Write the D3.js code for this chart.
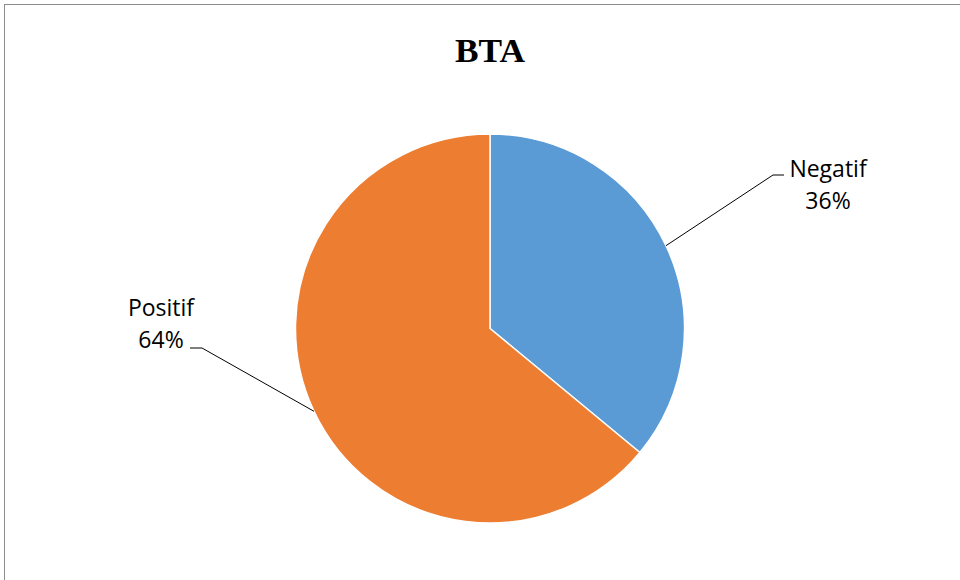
<!DOCTYPE html>
<html>
<head>
<meta charset="utf-8">
<script src="https://cdn.jsdelivr.net/npm/d3@7"></script>
<style>
  body { margin: 0; background: #fff; }
  svg { display: block; }
  .slice-label { font-family: "Open Sans", "Noto Sans", sans-serif; font-size: 23px; fill: #000; }
</style>
</head>
<body>
<div id="chart"></div>
<script>
const categories = ['Negatif', 'Positif'];
const values = [36, 64];
const colors = ['#5b9bd5', '#ed7d31'];
const title = 'BTA';

const width = 960;
const height = 580;
const cx = 490;
const cy = 328.5;
const radius = 194.5;

const svg = d3.select('#chart')
  .append('svg')
  .attr('width', width)
  .attr('height', height);

// chart frame (right/bottom edges fall outside the window)
svg.append('rect')
  .attr('x', 4.5)
  .attr('y', 4.5)
  .attr('width', width + 10)
  .attr('height', height + 10)
  .attr('fill', 'white')
  .attr('stroke', '#8c8c8c')
  .attr('stroke-width', 1);

svg.append('text')
  .text(title)
  .attr('x', 490)
  .attr('y', 62)
  .attr('text-anchor', 'middle')
  .attr('font-family', '"Liberation Serif", "DejaVu Serif", serif')
  .attr('font-weight', 'bold')
  .attr('font-size', '34px')
  .attr('textLength', 70)
  .attr('lengthAdjust', 'spacingAndGlyphs')
  .attr('fill', 'black');

const data = categories.map((c, i) => ({ name: c, value: values[i], color: colors[i] }));
const total = d3.sum(values);

const pie = d3.pie()
  .value(d => d.value)
  .sort(null);

const arc = d3.arc()
  .innerRadius(0)
  .outerRadius(radius);

const g = svg.append('g')
  .attr('transform', `translate(${cx},${cy})`);

const arcs = pie(data);

g.selectAll('path.slice')
  .data(arcs)
  .enter()
  .append('path')
  .attr('class', 'slice')
  .attr('d', arc)
  .attr('fill', d => d.data.color)
  .attr('stroke', 'white')
  .attr('stroke-width', 1.5);

// leader lines: from slice edge out to the label, with a short horizontal tail
const labelPos = {
  Negatif: { x: 828, y: 177, elbow: [773, 175], end: [784, 175] },
  Positif: { x: 161, y: 316, elbow: [202, 348], end: [190, 348] }
};

arcs.forEach((d) => {
  const mid = (d.startAngle + d.endAngle) / 2;
  const sx = cx + Math.sin(mid) * radius;
  const sy = cy - Math.cos(mid) * radius;
  const p = labelPos[d.data.name];

  svg.append('polyline')
    .attr('points', [[sx, sy], p.elbow, p.end].map(q => q.join(',')).join(' '))
    .attr('fill', 'none')
    .attr('stroke', 'black')
    .attr('stroke-width', 1);

  const t = svg.append('text')
    .attr('class', 'slice-label')
    .attr('text-anchor', 'middle')
    .attr('x', p.x)
    .attr('y', p.y);
  t.append('tspan')
    .attr('x', p.x)
    .text(d.data.name);
  t.append('tspan')
    .attr('x', p.x)
    .attr('dy', 32)
    .text(Math.round(d.data.value / total * 100) + '%');
});
</script>
</body>
</html>
